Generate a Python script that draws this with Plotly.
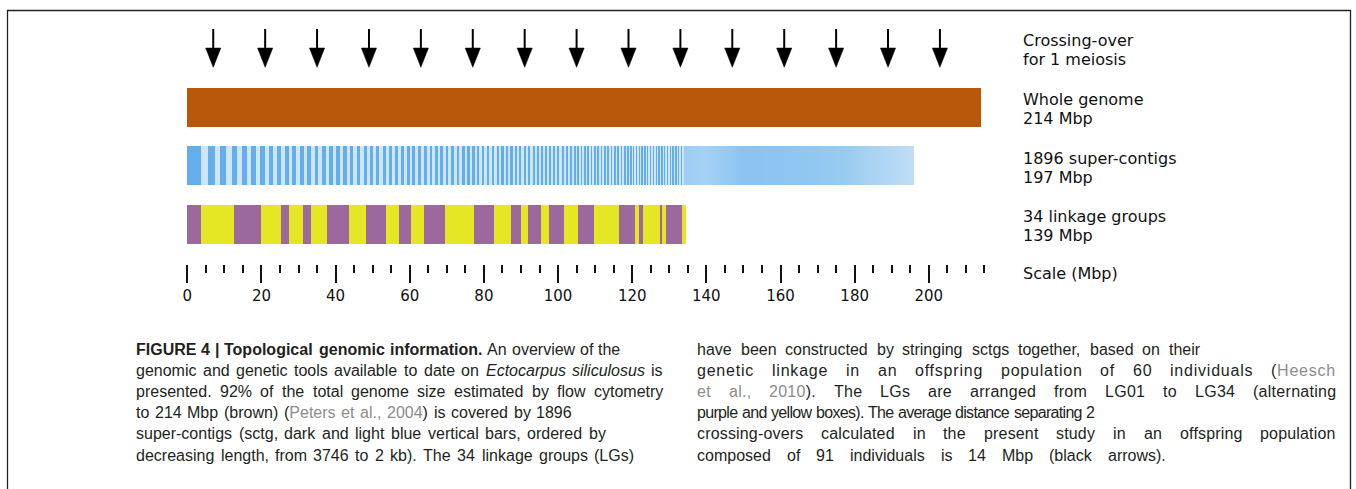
import re
import plotly.graph_objects as go

W, H = 1356, 489
X0_PX = 187.3          # pixel column of 0 Mbp
PX_PER_MBP = 3.7075    # horizontal scale

# ---------------- data ----------------
crossover_mbp = [7, 21, 35, 49, 63, 77, 91, 105, 119, 133, 147, 161, 175, 189, 203]
genome_mbp = [214]
lg_mbp = [3.62, 9.07, 7.13, 5.40, 2.16, 3.86, 2.16, 4.40, 5.94, 4.43, 5.40, 3.59,
          3.16, 3.51, 5.56, 7.83, 5.59, 4.40, 2.89, 1.81, 3.40, 2.35, 3.86, 3.78,
          4.32, 6.86, 4.32, 1.08, 0.97, 4.78, 0.54, 1.00, 4.21, 1.00]
sctg_top_mbp = [3.75, 1.9, 1.7, 1.6, 1.55, 1.5, 1.4, 1.3, 1.3, 1.25, 1.25, 1.2,
                1.2, 1.15, 1.1, 1.1, 1.05, 1.05, 1.0, 1.0]
sctg_band_counts = [10, 10, 10, 12, 14, 14, 16, 20, 30, 40, 50, 100, 200, 400, 950]
sctg_band_mbp = [1.0, 0.92, 0.85, 0.78, 0.72, 0.66, 0.6, 0.55, 0.45, 0.38,
                 0.234, 0.16, 0.08, 0.03, 0.0066]
scale_major = [0, 20, 40, 60, 80, 100, 120, 140, 160, 180, 200]
scale_labels = ["0", "20", "40", "60", "80", "100", "120", "140", "160", "180", "200"]
scale_minor = [v for v in range(5, 216, 5) if v % 20]

row_labels = ["Crossing-over", "for 1 meiosis", "Whole genome", "214 Mbp",
              "1896 super-contigs", "197 Mbp", "34 linkage groups", "139 Mbp",
              "Scale (Mbp)"]

caption_left = [
    "{b:FIGURE} {b:4} {b:|} {b:Topological} {b:genomic} {b:information.} An overview of the",
    "genomic and genetic tools available to date on {i:Ectocarpus} {i:siliculosus} is",
    "presented. 92% of the total genome size estimated by flow cytometry",
    "to 214 Mbp (brown) ({g:Peters} {g:et} {g:al.,} {g:2004}) is covered by 1896",
    "super-contigs (sctg, dark and light blue vertical bars, ordered by",
    "decreasing length, from 3746 to 2 kb). The 34 linkage groups (LGs)",
]
caption_right = [
    "have been constructed by stringing sctgs together, based on their",
    "genetic linkage in an offspring population of 60 individuals ({g:Heesch}",
    "{g:et} {g:al.,} {g:2010}). The LGs are arranged from LG01 to LG34 (alternating",
    "purple and yellow boxes). The average distance separating 2",
    "crossing-overs calculated in the present study in an offspring population",
    "composed of 91 individuals is 14 Mbp (black arrows).",
]

# ---------------- layout / styles ----------------
row_label_y = [40.5, 59.5, 99.5, 118.8, 158, 177.5, 216, 235.2, 273.3]
cap_left_x, cap_right_x = 136, 697
cap_left_end = [620, 663, 663, 572, 606, 634]
cap_right_end = [1200, 1336, 1336, 1094, 1336, 1166]
CAP_Y0, CAP_DY = 349, 21.2
CAP_FAMILY = "Liberation Sans, Arial"
CAP_SIZE = 16
MAX_GAP_EXTRA = 3.0    # extra word space allowed, in units of a normal space

BROWN = "#B9570B"
PURPLE = "#9B699D"
YELLOW = "#E5E624"
BLUE_DARK = "#63AEEC"
BLUE_LIGHT = "#CFE6F9"
GRAY = "#8c8c8c"
TEXT = "#231F20"
tail_grad_mbp = [134.0, 140.0, 145.7, 150.0, 160.0, 170.0, 178.0, 186.0, 196.5]
tail_grad_rgb = [(158, 204, 243), (164, 208, 245), (152, 202, 243), (139, 196, 241),
                 (141, 197, 241), (146, 200, 240), (154, 204, 240), (171, 212, 243),
                 (192, 222, 246)]

ROW_H = 39
Y_BROWN, Y_BLUE, Y_LG = 107.2, 165.5, 224.2
AX_Y = 264.3

fig = go.Figure()


def hbar(y, lengths, bases, colors):
    fig.add_trace(go.Bar(y=[y] * len(lengths), x=lengths, base=bases,
                         orientation="h", width=ROW_H,
                         marker=dict(color=colors, line=dict(width=0)),
                         hoverinfo="skip", showlegend=False))


def tail_color(m):
    for j in range(len(tail_grad_mbp) - 1):
        a, b = tail_grad_mbp[j], tail_grad_mbp[j + 1]
        if m <= b or j == len(tail_grad_mbp) - 2:
            t = min(max((m - a) / (b - a), 0), 1)
            c = [round(tail_grad_rgb[j][q] + t * (tail_grad_rgb[j + 1][q] - tail_grad_rgb[j][q])) for q in range(3)]
            return "rgb(%d,%d,%d)" % tuple(c)


# whole genome
hbar(Y_BROWN, genome_mbp, [0], [BROWN])

# super-contigs: resolvable contigs as alternating stripes, sub-pixel ones blended
lens, bases, cols = [], [], []
pos, k = 0.0, 0
for L in sctg_top_mbp:
    lens.append(L); bases.append(pos)
    cols.append(BLUE_DARK if k % 2 == 0 else BLUE_LIGHT)
    pos += L; k += 1
for n, L in zip(sctg_band_counts, sctg_band_mbp):
    if L >= 0.3:
        for _ in range(n):
            lens.append(L); bases.append(pos)
            cols.append(BLUE_DARK if k % 2 == 0 else BLUE_LIGHT)
            pos += L; k += 1
    else:
        end = pos + n * L
        step = 0.5
        while pos < end - 1e-9:
            s = min(step, end - pos)
            lens.append(s + 0.02); bases.append(pos); cols.append(tail_color(pos + s / 2))
            pos += s
        k += n
hbar(Y_BLUE, lens, bases, cols)

# linkage groups
lg_bases, acc = [], 0.0
for L in lg_mbp:
    lg_bases.append(acc); acc += L
hbar(Y_LG, lg_mbp, lg_bases, [PURPLE if i % 2 == 0 else YELLOW for i in range(len(lg_mbp))])

# crossing-over arrows
hw = 7.6 / PX_PER_MBP
sx, sy, tx, ty = [], [], [], []
for p in crossover_mbp:
    sx += [p, p, None]; sy += [29, 49, None]
    tx += [p - hw, p + hw, p, p - hw, None]; ty += [48, 48, 67.3, 48, None]
fig.add_trace(go.Scatter(x=sx, y=sy, mode="lines", line=dict(color="black", width=2),
                         hoverinfo="skip", showlegend=False))
fig.add_trace(go.Scatter(x=tx, y=ty, mode="lines", fill="toself", fillcolor="black",
                         line=dict(color="black", width=0.5),
                         hoverinfo="skip", showlegend=False))

# row labels on the right
for txt, yy in zip(row_labels, row_label_y):
    fig.add_annotation(x=1021 / W, y=1 - yy / H, xref="paper", yref="paper",
                       text=txt, showarrow=False, xanchor="left", yanchor="middle",
                       font=dict(family="DejaVu Sans", size=16, color="#111"))

# ---------------- caption with justified word placement ----------------
_REG = {' ': 278, '%': 889, '(': 333, ')': 333, ',': 278, '-': 333, '.': 278, '|': 260}
_REG.update({c: 556 for c in "0123456789"})
_REG.update(dict(zip("ABCDEFGHIJKLMNOPQRSTUVWXYZ",
                     [667, 667, 722, 722, 667, 611, 778, 722, 278, 500, 667, 556, 833,
                      722, 778, 667, 778, 722, 667, 611, 722, 667, 944, 667, 667, 611])))
_REG.update(dict(zip("abcdefghijklmnopqrstuvwxyz",
                     [556, 556, 500, 556, 556, 278, 556, 556, 222, 222, 500, 222, 833,
                      556, 556, 556, 556, 333, 500, 278, 556, 500, 722, 500, 500, 500])))
_BOLD = {' ': 278, ',': 278, '.': 278, '|': 280}
_BOLD.update({c: 556 for c in "0123456789"})
_BOLD.update(dict(zip("ABCDEFGHIJKLMNOPQRSTUVWXYZ",
                      [722, 722, 722, 722, 667, 611, 778, 722, 278, 556, 722, 611, 833,
                       722, 778, 667, 778, 722, 667, 611, 722, 667, 944, 667, 667, 611])))
_BOLD.update(dict(zip("abcdefghijklmnopqrstuvwxyz",
                      [556, 611, 556, 611, 556, 333, 611, 611, 278, 278, 556, 278, 889,
                       611, 611, 611, 611, 389, 556, 333, 611, 556, 778, 556, 556, 500])))

_SEG = re.compile(r"\{([big]):([^}]*)\}|([^{]+)")


def word_segments(word):
    out = []
    for m in _SEG.finditer(word):
        if m.group(3) is not None:
            out.append(("r", m.group(3)))
        else:
            out.append((m.group(1), m.group(2)))
    return out


def seg_width(st, txt):
    table = _BOLD if st == "b" else _REG
    return sum(table.get(ch, 556) for ch in txt) / 1000 * CAP_SIZE


def seg_html(st, txt, ls):
    sty = "letter-spacing:%.2fpx" % ls
    if st == "g":
        return "<span style='color:%s;%s'>%s</span>" % (GRAY, sty, txt)
    inner = "<span style='%s'>%s</span>" % (sty, txt)
    if st == "b":
        return "<b>%s</b>" % inner
    if st == "i":
        return "<i>%s</i>" % inner
    return inner


def place_line(line, x0, x1, yy):
    words = [word_segments(w) for w in line.split(" ")]
    widths = [sum(seg_width(st, t) for st, t in segs) for segs in words]
    nchars = [sum(len(t) for _, t in segs) for segs in words]
    g = max(len(words) - 1, 1)
    space = 278 / 1000 * CAP_SIZE
    extra = (x1 - x0) - (sum(widths) + g * space)
    if extra < 0:
        gap, ls = space, extra / sum(nchars)
    else:
        gx = min(extra, g * MAX_GAP_EXTRA * space)
        gap, ls = space + gx / g, (extra - gx) / sum(nchars)
    x = x0
    for segs, w, nc in zip(words, widths, nchars):
        html = "".join(seg_html(st, t, ls) for st, t in segs)
        fig.add_annotation(x=(x - 2) / W, y=1 - yy / H, xref="paper", yref="paper",
                           text=html, showarrow=False, xanchor="left", yanchor="middle",
                           font=dict(family=CAP_FAMILY, size=CAP_SIZE, color=TEXT))
        x += w + nc * ls + gap


for i, t in enumerate(caption_left):
    place_line(t, cap_left_x, cap_left_end[i], CAP_Y0 + i * CAP_DY)
for i, t in enumerate(caption_right):
    place_line(t, cap_right_x, cap_right_end[i], CAP_Y0 + i * CAP_DY)

# frame
fig.add_shape(type="rect", xref="paper", yref="paper",
              x0=7.5 / W, x1=1350.5 / W, y0=1 - 10.5 / H, y1=-0.1,
              line=dict(color="#222", width=1.3))

fig.update_layout(
    width=W, height=H, margin=dict(l=0, r=0, t=0, b=0),
    paper_bgcolor="white", plot_bgcolor="white", barmode="overlay", bargap=0,
    xaxis=dict(range=[-X0_PX / PX_PER_MBP, (W - X0_PX) / PX_PER_MBP],
               showgrid=False, zeroline=False, showline=False,
               tickmode="array", tickvals=scale_major, ticktext=scale_labels,
               ticks="outside", ticklen=18, tickwidth=2, tickcolor="#111",
               tickfont=dict(family="DejaVu Sans", size=15, color="#111"),
               anchor="free", position=1 - AX_Y / H, automargin=False,
               minor=dict(tickmode="array", tickvals=scale_minor, ticks="outside",
                          ticklen=8, tickwidth=1.7, tickcolor="#111", showgrid=False)),
    yaxis=dict(range=[H, 0], visible=False, showgrid=False, zeroline=False),
)

fig.write_html("out.html", config={"displayModeBar": False},
               post_script="document.body.style.margin='0';document.body.style.overflow='hidden';")
